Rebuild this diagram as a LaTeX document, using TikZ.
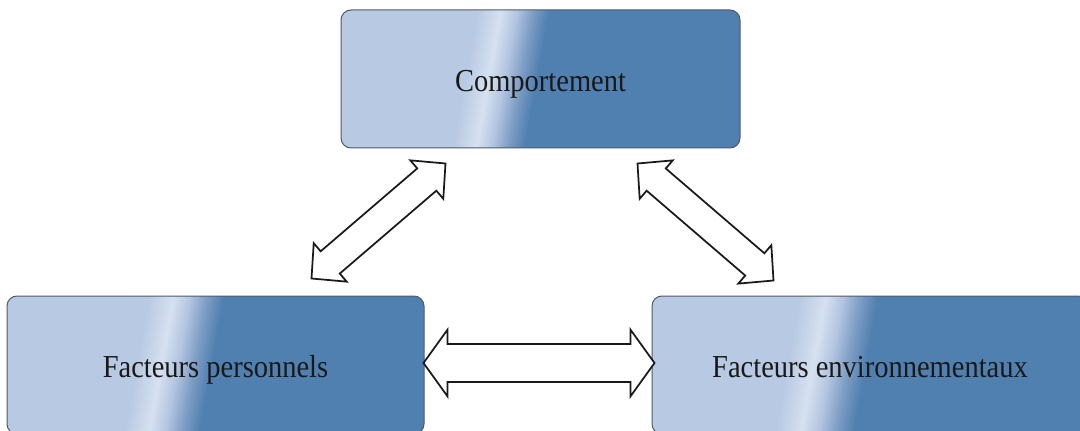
\documentclass[tikz,border=0pt]{standalone}
\usepackage{fontspec}
\setmainfont{Liberation Serif}[FakeStretch=0.89]
\usetikzlibrary{calc}

\definecolor{boxlight}{RGB}{184,201,227}
\definecolor{boxshine}{RGB}{214,225,240}
\definecolor{boxmidA}{RGB}{178,196,224}
\definecolor{boxmidB}{RGB}{125,157,196}
\definecolor{boxdark}{RGB}{80,128,176}
\definecolor{boxedge}{RGB}{80,90,104}

% glossy horizontal fill; the 25bp..75bp range covers the shaded rectangle
\pgfdeclarehorizontalshading{glossfill}{100bp}{%
  color(0bp)=(boxlight); color(27.27bp)=(boxlight);
  color(41.36bp)=(boxlight); color(44.09bp)=(boxshine);
  color(45.91bp)=(boxmidA); color(47.73bp)=(boxmidB);
  color(49.55bp)=(boxdark); color(100bp)=(boxdark)}

% slanted glossy fill of a rounded box: centre (#1,#2), size #3 x #4
\newcommand{\glossbox}[4]{%
  \begin{scope}
    \clip[rounded corners=7.5pt] (#1-0.5*#3,#2-0.5*#4) rectangle (#1+0.5*#3,#2+0.5*#4);
    \begin{scope}[transform canvas={xslant=0.18}]
      \shade[shading=glossfill] (#1-0.18*#2-0.55*#3,#2-0.5*#4) rectangle (#1-0.18*#2+0.55*#3,#2+0.5*#4);
    \end{scope}
  \end{scope}}

% outlined double block arrow between two points:
% #1,#2 tips, #3 head length, #4 head half-width, #5 shaft half-width
\newcommand{\dblarrow}[5]{%
  \draw[blockarrow]
    (#1)
    -- ($($(#1)!#3!(#2)$)!#4!90:(#2)$)
    -- ($($(#1)!#3!(#2)$)!#5!90:(#2)$)
    -- ($($(#2)!#3!(#1)$)!#5!-90:(#1)$)
    -- ($($(#2)!#3!(#1)$)!#4!-90:(#1)$)
    -- (#2)
    -- ($($(#2)!#3!(#1)$)!#4!90:(#1)$)
    -- ($($(#2)!#3!(#1)$)!#5!90:(#1)$)
    -- ($($(#1)!#3!(#2)$)!#5!-90:(#2)$)
    -- ($($(#1)!#3!(#2)$)!#4!-90:(#2)$)
    -- cycle;}

\begin{document}
\begin{tikzpicture}[x=0.75pt,y=0.75pt,
  box/.style={draw=boxedge, line width=0.75pt, rounded corners=7.5pt,
    minimum height=103.5pt, inner sep=0pt, text height=18.5pt, text depth=0pt,
    font=\fontsize{24pt}{28pt}\selectfont, text=black!90},
  blockarrow/.style={draw=black!90, fill=white, line width=1.3pt, line join=miter}]
\useasboundingbox (0,-431) rectangle (1080,0);

% glossy fills behind the boxes
\glossbox{540.5}{-79}{399}{138}
\glossbox{215.5}{-365}{417}{138}
\glossbox{870}{-365}{436}{138}

% boxes
\node[box, minimum width=299.25pt] (C) at (540.5,-79) {Comportement};
\node[box, minimum width=312.75pt] (P) at (215.5,-365) {Facteurs personnels};
\node[box, minimum width=327pt] (E) at (870,-365) {Facteurs environnementaux};

% tip points of the arrows
\coordinate (cpTop) at ($(C.south west)+(105,-15)$);
\coordinate (cpBot) at ($(P.north east)+(-113,17)$);
\coordinate (ceTop) at ($(C.south east)+(-103,-15)$);
\coordinate (ceBot) at ($(E.north west)+(122,15)$);
\coordinate (peL) at ($(P.east)+(-1,2)$);
\coordinate (peR) at ($(E.west)+(3,2)$);

% two-way arrows
\dblarrow{cpBot}{cpTop}{18.5pt}{19pt}{11pt}
\dblarrow{ceTop}{ceBot}{18.5pt}{19pt}{11pt}
\dblarrow{peL}{peR}{18pt}{25pt}{14.25pt}
\end{tikzpicture}
\end{document}
